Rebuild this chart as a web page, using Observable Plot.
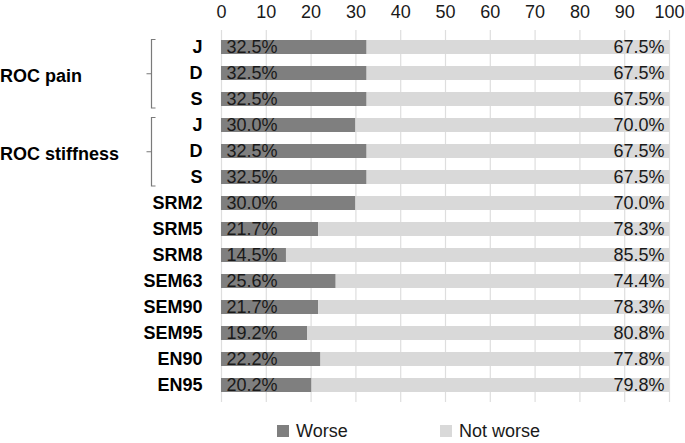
<!DOCTYPE html>
<html>
<head>
<meta charset="utf-8">
<script src="https://cdn.jsdelivr.net/npm/d3@7"></script>
<script src="https://cdn.jsdelivr.net/npm/@observablehq/plot@0.6"></script>
<style>
  html, body { margin: 0; padding: 0; background: #fff; }
  body { width: 685px; height: 443px; overflow: hidden; font-family: "Liberation Sans", Arial, sans-serif; }
  #chart svg { display: block; }
  [aria-label="y-axis tick label"] text, [aria-label="y-axis"] text { font-weight: bold; font-size: 18px; fill: #000; }
  [aria-label="x-axis tick label"] text, [aria-label="x-axis"] text { font-size: 18px; fill: #1a1a1a; }
  #legend { position: relative; height: 22px; margin-top: 3px; font-size: 18px; line-height: 20px; color: #1a1a1a; }
  #legend .item { position: absolute; top: 0; display: flex; align-items: center; }
  #legend .sw { width: 12px; height: 12px; margin-right: 7px; }
</style>
</head>
<body>
<div id="chart"></div>
<div id="legend"></div>
<script>
// ---- data ----
const rowLabels = ["J", "D", "S", "J", "D", "S", "SRM2", "SRM5", "SRM8", "SEM63", "SEM90", "SEM95", "EN90", "EN95"];
const rowGroups = ["ROC pain", "ROC pain", "ROC pain", "ROC stiffness", "ROC stiffness", "ROC stiffness", "", "", "", "", "", "", "", ""];
const seriesNames = ["Worse", "Not worse"];
const worse    = [32.5, 32.5, 32.5, 30.0, 32.5, 32.5, 30.0, 21.7, 14.5, 25.6, 21.7, 19.2, 22.2, 20.2];
const notWorse = [67.5, 67.5, 67.5, 70.0, 67.5, 67.5, 70.0, 78.3, 85.5, 74.4, 78.3, 80.8, 77.8, 79.8];
const xTicks = [0, 10, 20, 30, 40, 50, 60, 70, 80, 90, 100];
const seriesColors = ["#7f7f7f", "#d9d9d9"];

// ---- derived table ----
const rows = d3.range(rowLabels.length);
const table = rows.flatMap(i => [
  {row: i, series: seriesNames[0], value: worse[i]},
  {row: i, series: seriesNames[1], value: notWorse[i]}
]);
const fmt = v => d3.format(".1f")(v) + "%";

// group spans for brackets
const groupNames = Array.from(new Set(rowGroups.filter(g => g)));
const groupSpans = groupNames.map(g => {
  const idx = rows.filter(i => rowGroups[i] === g);
  return {name: g, first: idx[0], last: idx[idx.length - 1]};
});

function brackets(index, scales, values, dimensions) {
  const y = scales.y;
  const bw = y.bandwidth ? y.bandwidth() : 0;
  const g = d3.create("svg:g").attr("aria-label", "group brackets");
  const xv = dimensions.marginLeft - 69.5;
  for (const s of groupSpans) {
    const y1 = y(s.first) - 0.5;
    const y2 = y(s.last) + bw + 2;
    const ym = (y1 + y2) / 2;
    g.append("path")
      .attr("d", `M${xv + 4},${y1}H${xv}V${y2}H${xv + 4}M${xv},${ym}H${xv - 5}`)
      .attr("fill", "none")
      .attr("stroke", "#7a7a7a")
      .attr("stroke-width", 1.2);
    g.append("text")
      .attr("x", 0)
      .attr("y", ym + 1.5)
      .attr("dy", "0.35em")
      .attr("text-anchor", "start")
      .attr("font-size", 18)
      .attr("font-weight", "bold")
      .attr("fill", "#000")
      .text(s.name);
  }
  return g.node();
}

const plot = Plot.plot({
  width: 685,
  height: 418,
  marginTop: 30,
  marginBottom: 16,
  marginLeft: 221,
  marginRight: 16,
  style: {fontFamily: "Liberation Sans, Arial, sans-serif", fontSize: "18px", color: "#1a1a1a", background: "#fff"},
  x: {domain: [0, 100], ticks: xTicks, axis: "top", tickSize: 0, tickPadding: 13, label: null},
  y: {domain: rows, paddingInner: 0.47, paddingOuter: 0.24, tickSize: 0, tickPadding: 19, tickFormat: i => rowLabels[i], label: null},
  color: {domain: seriesNames, range: seriesColors},
  marks: [
    Plot.ruleX(xTicks, {stroke: "#dedede", strokeWidth: 1.2}),
    Plot.barX(table, {y: "row", x: "value", fill: "series"}),
    Plot.text(table.filter(d => d.series === seriesNames[0]), {
      y: "row", text: d => fmt(d.value), frameAnchor: "left", textAnchor: "start", dx: 5,
      fontSize: 18, fill: "#1a1a1a"
    }),
    Plot.text(table.filter(d => d.series === seriesNames[1]), {
      y: "row", text: d => fmt(d.value), frameAnchor: "right", textAnchor: "end", dx: -5,
      fontSize: 18, fill: "#1a1a1a"
    }),
    brackets
  ]
});
document.getElementById("chart").appendChild(plot);

// legend
const legend = d3.select("#legend");
const legendLeft = [277, 440];
seriesNames.forEach((name, i) => {
  const item = legend.append("div").attr("class", "item").style("left", legendLeft[i] + "px");
  item.append("div").attr("class", "sw").style("background", seriesColors[i]);
  item.append("span").text(name);
});
</script>
</body>
</html>
